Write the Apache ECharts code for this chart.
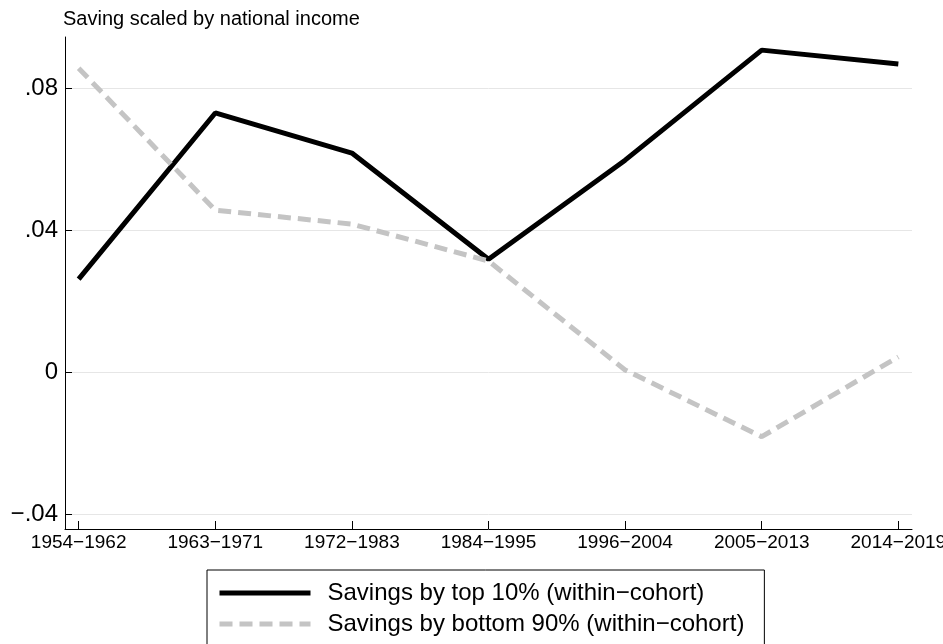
<!DOCTYPE html>
<html>
<head>
<meta charset="utf-8">
<script src="https://cdn.jsdelivr.net/npm/echarts@6/dist/echarts.min.js"></script>
<style>
  html, body { margin: 0; padding: 0; background: #fff; }
  #chart { width: 943px; height: 644px; }
</style>
</head>
<body>
<div id="chart"></div>
<script>
// cohorts on the x axis
const cohorts = ['1954−1962', '1963−1971', '1972−1983', '1984−1995', '1996−2004', '2005−2013', '2014−2019'];
// saving scaled by national income
const top10 = [0.0262, 0.0730, 0.0617, 0.0318, 0.0597, 0.0907, 0.0868];
const bottom90 = [0.0856, 0.0456, 0.0417, 0.0313, 0.0006, -0.0182, 0.0043];
const yTicks = [-0.04, 0, 0.04, 0.08];

const font = '"Liberation Sans", Arial, Helvetica, sans-serif';

const toPoints = arr => arr.map((v, i) => [i, v]);

// stata-style tick labels: .08, 0, −.04
const fmtY = v => {
  if (Math.abs(v) < 1e-9) return '0';
  const s = Math.abs(v).toFixed(2).replace(/^0/, '');
  return (v < 0 ? '−' : '') + s;
};

const chart = echarts.init(document.getElementById('chart'), null, { renderer: 'canvas' });

const option = {
  animation: false,
  backgroundColor: '#ffffff',
  textStyle: { fontFamily: font },
  grid: { left: 65, right: 31, top: 37, bottom: 115, outerBoundsMode: 'none', containLabel: false },
  xAxis: {
    type: 'value',
    min: -0.1,
    max: 6.1,
    axisLine: { show: true, onZero: false, lineStyle: { color: '#000', width: 1 } },
    axisTick: { show: true, inside: true, length: 8, customValues: cohorts.map((c, i) => i), lineStyle: { color: '#000' } },
    axisLabel: {
      customValues: cohorts.map((c, i) => i),
      formatter: v => cohorts[Math.round(v)],
      color: '#000', fontSize: 19, margin: 4, fontFamily: font
    },
    splitLine: { show: false }
  },
  yAxis: {
    type: 'value',
    min: -0.0442,
    max: 0.0944,
    name: 'Saving scaled by national income',
    nameLocation: 'end',
    nameGap: 8,
    nameTextStyle: { color: '#000', fontSize: 20, align: 'left', padding: [0, 0, 0, -2], fontFamily: font },
    axisLine: { show: true, onZero: false, lineStyle: { color: '#000', width: 1 } },
    axisTick: { show: true, inside: true, length: 7, customValues: yTicks, lineStyle: { color: '#000' } },
    axisLabel: { customValues: yTicks, formatter: fmtY, color: '#000', fontSize: 24, margin: 7, fontFamily: font },
    splitLine: { show: true, lineStyle: { color: '#e6e6e6', width: 1 } }
  },
  legend: {
    left: 207,
    top: 570,
    height: 120,
    orient: 'vertical',
    itemWidth: 91,
    itemHeight: 14,
    itemGap: 7,
    padding: [11, 20, 30, 10],
    borderColor: '#000',
    borderWidth: 1,
    itemStyle: { opacity: 0 },
    lineStyle: { width: 5 },
    textStyle: { color: '#000', fontSize: 24, fontFamily: font, padding: [0, 0, 0, 12] },
    data: ['Savings by top 10% (within−cohort)', 'Savings by bottom 90% (within−cohort)']
  },
  series: [
    {
      name: 'Savings by top 10% (within−cohort)',
      type: 'line',
      data: toPoints(top10),
      symbol: 'none',
      lineStyle: { color: '#000', width: 5 },
      itemStyle: { color: '#000', opacity: 0 }
    },
    {
      name: 'Savings by bottom 90% (within−cohort)',
      type: 'line',
      data: toPoints(bottom90),
      symbol: 'none',
      lineStyle: { color: '#c4c4c4', width: 5, type: [13, 7] },
      itemStyle: { color: '#c4c4c4', opacity: 0 }
    }
  ]
};

chart.setOption(option);
</script>
</body>
</html>
